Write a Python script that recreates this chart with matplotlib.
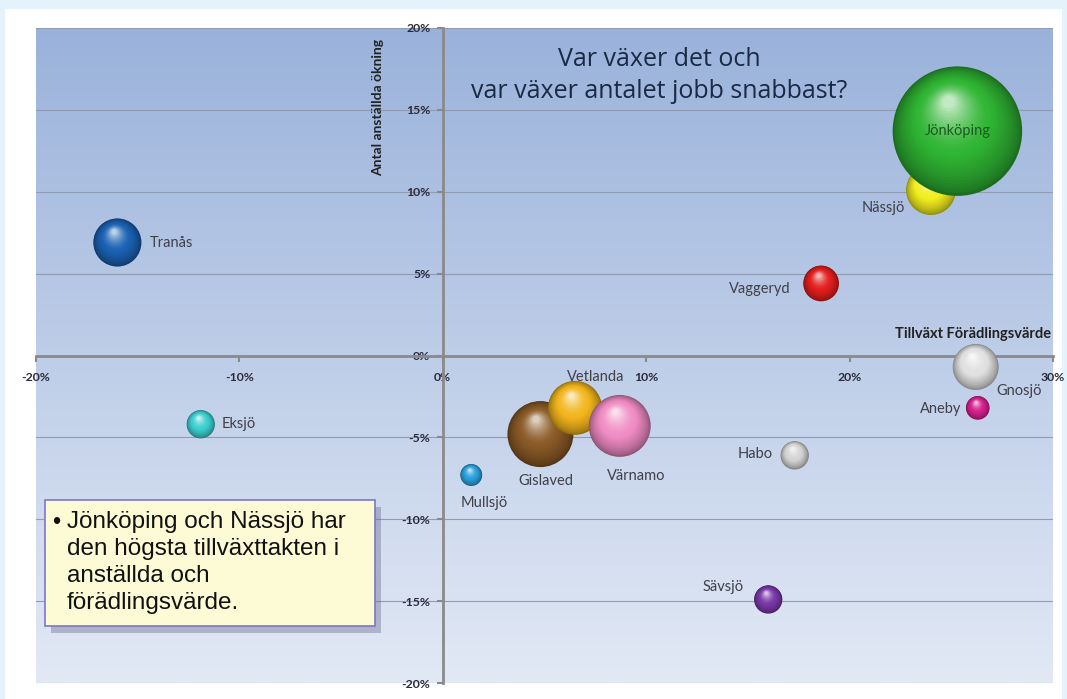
import matplotlib.pyplot as plt
import matplotlib.transforms as mtransforms
from matplotlib.patches import Rectangle, FancyBboxPatch
from matplotlib.colors import to_rgb
import numpy as np

# data (percent growth)
kommuner = ['Tranås', 'Eksjö', 'Mullsjö', 'Gislaved', 'Vetlanda', 'Värnamo', 'Sävsjö',
            'Habo', 'Vaggeryd', 'Nässjö', 'Jönköping', 'Gnosjö', 'Aneby']
forädling = [-16.0, -11.9, 1.4, 4.8, 6.5, 8.7, 16.0, 17.3, 18.6, 24.0, 25.3, 26.2, 26.3]
anställda = [6.9, -4.2, -7.3, -4.8, -3.2, -4.3, -14.9, -6.1, 4.4, 10.1, 13.7, -0.7, -3.2]
storlek = [58, 20, 12, 109, 73, 96, 20, 20, 32, 62, 420, 53, 14]
färger = ['#1b62b4', '#3ccfd0', '#2aa0dc', '#8a5a26', '#f2b51c', '#f08cc4', '#7a38a8',
          '#d4d4d4', '#e41e1e', '#f2ee1e', '#2fb533', '#e0e0e0', '#d6208e']
# label offsets in points and alignment
etikett_dx = [23, 15, 9, 4, 15, 12, -18, -16, -22, -19, 0, 15, -12]
etikett_dy = [0, 0, -20, -34, 22, -36, 9, 1, -4, -13, 0, -17, -1]
etikett_ha = ['left', 'left', 'center', 'center', 'center', 'center', 'right',
              'right', 'right', 'right', 'center', 'left', 'right']

xticks = [-20, -10, 0, 10, 20, 30]
yticks = [-20, -15, -10, -5, 0, 5, 10, 15, 20]

fig = plt.figure(figsize=(10.67, 6.99), dpi=100)
fig.patch.set_facecolor('#e4f2fb')
fig.add_artist(Rectangle((5 / 1067, 0), 1057 / 1067, 1 - 9 / 699, transform=fig.transFigure,
                         facecolor='white', edgecolor='none', zorder=0))

ax = fig.add_axes([36 / 1067, 16 / 699, 1017 / 1067, 655 / 699])
ax.set_xlim(-20, 30)
ax.set_ylim(-20, 20)

# gradient background of the plot area
top = np.array(to_rgb('#9ab2db'))
bot = np.array(to_rgb('#e2e9f5'))
t = np.linspace(0, 1, 256)[:, None]
grad = (top * (1 - t) + bot * t)[:, None, :]
ax.imshow(grad, extent=[-20, 30, -20, 20], aspect='auto', origin='upper', zorder=0)

for y in yticks:
    ax.axhline(y, color='#8e9cb4', lw=0.8, zorder=1)

for s in ['top', 'right']:
    ax.spines[s].set_visible(False)
ax.spines['left'].set_position(('data', 0))
ax.spines['bottom'].set_position(('data', 0))
for s in ['left', 'bottom']:
    ax.spines[s].set_color('#8a8a8a')
    ax.spines[s].set_linewidth(2)
    ax.spines[s].set_zorder(2)

ax.set_xticks(xticks)
ax.set_yticks(yticks)
ax.set_xticklabels([f'{v}%' for v in xticks])
ax.set_yticklabels([f'{v}%' for v in yticks])
ax.tick_params(axis='both', colors='#8a8a8a', labelcolor='#2a2a3a', labelsize=8.8, length=4, width=1.5)
ax.tick_params(axis='x', pad=8)
ax.tick_params(axis='y', pad=5)
for lab in ax.get_xticklabels() + ax.get_yticklabels():
    lab.set_fontweight('bold')
    lab.set_fontfamily('Lato')

# sphere look: stacked circles, highlight toward the top
n = 30
for i, (x, y, st, c) in enumerate(zip(forädling, anställda, storlek, färger)):
    base = np.array(to_rgb(c))
    s = st * 20.7
    r_pt = np.sqrt(s) / 2
    for k in range(n):
        u = k / (n - 1)
        f = 1 - 0.9 * u
        if u < 0.45:
            col = base * (0.6 + 0.4 * (u / 0.45) ** 0.7)
        else:
            col = base + (1 - base) * ((u - 0.45) / 0.55) ** 1.6 * 0.7
        col = np.clip(col, 0, 1)
        off = r_pt * (1 - f) * 0.5
        tr = mtransforms.offset_copy(ax.transData, fig=fig, x=-off * 0.3, y=off, units='points')
        ax.scatter([x], [y], s=s * f ** 2, color=col, transform=tr, zorder=3 + i * 0.01,
                   edgecolors='none')

for x, y, name, dx, dy, ha in zip(forädling, anställda, kommuner, etikett_dx, etikett_dy, etikett_ha):
    col = '#1c5a20' if name == 'Jönköping' else '#404048'
    ax.annotate(name, (x, y), xytext=(dx, dy), textcoords='offset points', ha=ha, va='center',
                fontsize=10.5, color=col, family='Lato', zorder=5)

ax.text(-3.2, 19.3, 'Antal anställda ökning', rotation=90, ha='center', va='top',
        fontsize=10, fontweight='bold', color='#222222', family='Lato')
ax.text(29.9, 0.9, 'Tillväxt Förädlingsvärde', ha='right', va='bottom',
        fontsize=10.5, fontweight='bold', color='#222222', family='Lato')
ax.text(10.66, 17.1, 'Var växer det och\nvar växer antalet jobb snabbast?', ha='center', va='center',
        fontsize=18, color='#1a2a44', family='Open Sans', linespacing=1.35)

# note box
shadow = FancyBboxPatch((51 / 1067, 66 / 699), 330 / 1067, 126 / 699, boxstyle='square,pad=0',
                        transform=fig.transFigure, facecolor='#6a6a8a', edgecolor='none',
                        alpha=0.4, zorder=6)
fig.add_artist(shadow)
box = FancyBboxPatch((45 / 1067, 73 / 699), 330 / 1067, 126 / 699, boxstyle='square,pad=0',
                     transform=fig.transFigure, facecolor='#fdfbd6', edgecolor='#7a78c8',
                     lw=1.2, zorder=7)
fig.add_artist(box)
fig.text(52 / 1067, 1 - 512 / 699, '•', fontsize=17, va='top', ha='left', family='Liberation Sans',
         color='#111111', zorder=8)
fig.text(67 / 1067, 1 - 511 / 699,
         'Jönköping och Nässjö har\nden högsta tillväxttakten i\nanställda och\nförädlingsvärde.',
         fontsize=17.5, va='top', ha='left', family='Liberation Sans', color='#111111',
         linespacing=1.3, zorder=8)

fig.savefig('out.png', dpi=100, facecolor=fig.get_facecolor())
